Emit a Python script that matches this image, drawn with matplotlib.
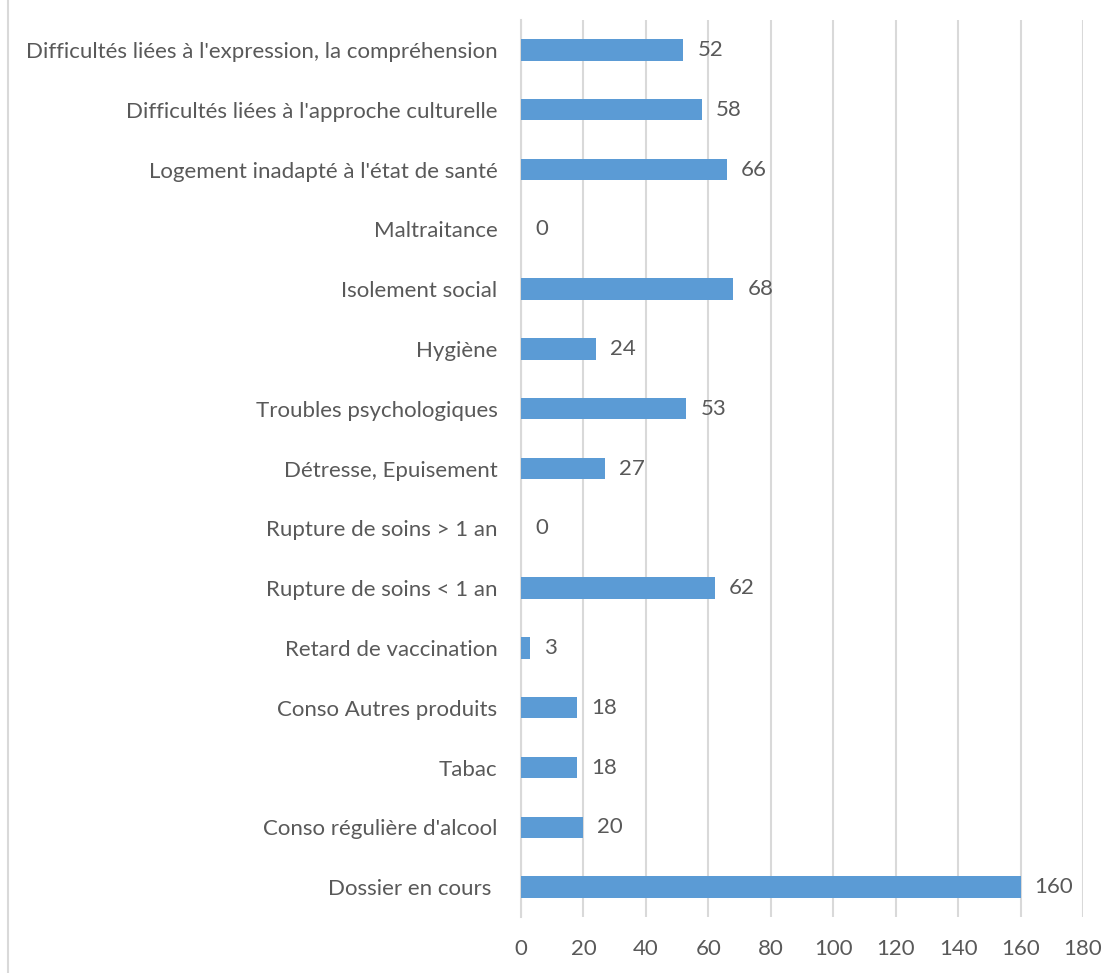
import matplotlib.pyplot as plt
from matplotlib.lines import Line2D

# data (bottom to top in the chart)
categories = [
    "Dossier en cours ",
    "Conso régulière d'alcool",
    "Tabac",
    "Conso Autres produits",
    "Retard de vaccination",
    "Rupture de soins < 1 an",
    "Rupture de soins > 1 an",
    "Détresse, Epuisement",
    "Troubles psychologiques",
    "Hygiène",
    "Isolement social",
    "Maltraitance",
    "Logement inadapté à l'état de santé",
    "Difficultés liées à l'approche culturelle",
    "Difficultés liées à l'expression, la compréhension",
]
values = [160, 20, 18, 18, 3, 62, 0, 27, 53, 24, 68, 0, 66, 58, 52]
x_ticks = [0, 20, 40, 60, 80, 100, 120, 140, 160, 180]

BAR_COLOR = "#5b9bd5"
TEXT_COLOR = "#595959"
GRID_COLOR = "#d9d9d9"

plt.rcParams["font.family"] = ["Lato", "DejaVu Sans"]
FS = 16

fig = plt.figure(figsize=(11.1, 9.73), dpi=100)
ax = fig.add_axes([521 / 1110, 1 - 917 / 973, (1083 - 521) / 1110, (917 - 20) / 973])

pos = list(range(len(categories)))
ax.barh(pos, values, height=0.36, color=BAR_COLOR, zorder=3)

for p, v in zip(pos, values):
    ax.text(v + 4.5, p, str(v), va="center", ha="left",
            fontsize=FS, color=TEXT_COLOR)

ax.set_xlim(0, 180)
ax.set_ylim(-0.5, len(categories) - 0.5)
ax.set_xticks(x_ticks)
ax.set_yticks(pos)
ax.set_yticklabels(categories)
ax.tick_params(axis="both", length=0, labelsize=FS, labelcolor=TEXT_COLOR)
ax.tick_params(axis="y", pad=17)
ax.tick_params(axis="x", pad=16)

ax.grid(axis="x", color=GRID_COLOR, linewidth=1.5, zorder=0)
for side in ["top", "right", "bottom"]:
    ax.spines[side].set_visible(False)
ax.spines["left"].set_color(GRID_COLOR)
ax.spines["left"].set_linewidth(1.5)

# chart border on the left edge
fig.add_artist(Line2D([8 / 1110, 8 / 1110], [0, 1], color=GRID_COLOR,
                      linewidth=1.5, transform=fig.transFigure))

fig.savefig("out.png", dpi=100)
